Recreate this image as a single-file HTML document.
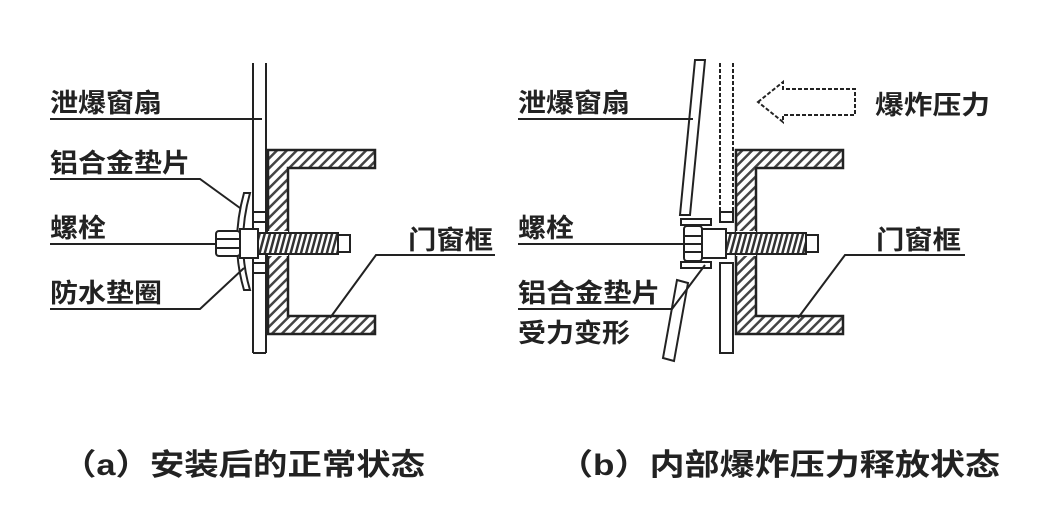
<!DOCTYPE html>
<html><head><meta charset="utf-8"><style>
html,body{margin:0;padding:0;background:#fff;}
svg{display:block;}
text{font-family:"Liberation Sans","Noto Sans CJK SC",sans-serif;fill:#222;font-weight:bold;}
</style></head><body>
<svg width="1062" height="516" viewBox="0 0 1062 516" xmlns="http://www.w3.org/2000/svg">
<defs>
<pattern id="h" width="7" height="7" patternUnits="userSpaceOnUse" patternTransform="rotate(45)">
<rect width="7" height="7" fill="#fff"/><rect width="2.5" height="7" fill="#444"/>
</pattern>
<pattern id="t" width="5" height="7" patternUnits="userSpaceOnUse" patternTransform="rotate(15)">
<rect width="5" height="7" fill="#fff"/><rect width="2.5" height="7" fill="#333"/>
</pattern>
</defs>
<g stroke="#222" stroke-width="2" fill="none">
<!-- (a) sash -->
<line x1="253" y1="63" x2="253" y2="353"/><line x1="266" y1="63" x2="266" y2="353"/>
<line x1="253" y1="353" x2="266" y2="353"/>
<line x1="253" y1="212" x2="266" y2="212"/><line x1="253" y1="222" x2="266" y2="222"/>
<line x1="253" y1="263" x2="266" y2="263"/><line x1="253" y1="273" x2="266" y2="273"/>
<!-- (a) frame -->
<path d="M268 150 H375 V168 H288 V316 H375 V334 H268 Z" fill="url(#h)" stroke-width="2.5"/>
<rect x="268" y="231" width="20" height="25" fill="#fff" stroke="none"/>
<!-- washer arc -->
<path d="M250 193 Q236 243 250 290 L244 290 Q230 243 244 193 Z" fill="#fff"/>
<!-- nut/bolt -->
<rect x="216" y="231" width="24" height="25" rx="3" fill="#fff"/>
<line x1="217" y1="239" x2="240" y2="239"/><line x1="217" y1="248" x2="240" y2="248"/>
<rect x="240" y="229" width="18" height="29" fill="#fff"/>
<rect x="258" y="233" width="80" height="21" fill="url(#t)"/>
<rect x="338" y="235" width="12" height="17" fill="#fff"/>
<!-- (a) leaders -->
<line x1="50" y1="119" x2="262" y2="119"/>
<polyline points="50,179 200,179 240,208"/>
<line x1="50" y1="244" x2="216" y2="244"/>
<polyline points="50,309 200,309 244,268"/>
<polyline points="495,255 376,255 330,318"/>

<!-- (b) dashed sash -->
<g stroke-dasharray="4,2">
<line x1="720" y1="63" x2="720" y2="212"/><line x1="733" y1="63" x2="733" y2="212"/>
<path d="M758 102 L783 82 V89 H855 V115 H783 V122 Z"/>
</g>
<rect x="720" y="212" width="13" height="10"/>
<rect x="720" y="263" width="13" height="90"/>
<!-- tilted sash -->
<polygon points="695,60 705,60 690,215 680,215" fill="#fff"/>
<polygon points="677,280 688,283 674,361 663,358" fill="#fff"/>
<!-- (b) frame -->
<path d="M736 150 H843 V168 H756 V316 H843 V334 H736 Z" fill="url(#h)" stroke-width="2.5"/>
<rect x="736" y="231" width="20" height="25" fill="#fff" stroke="none"/>
<!-- washer plates -->
<rect x="681" y="219" width="30" height="6" fill="#fff"/>
<rect x="681" y="262" width="30" height="6" fill="#fff"/>
<rect x="684" y="226" width="18" height="35" rx="3" fill="#fff"/>
<line x1="685" y1="236" x2="702" y2="236"/><line x1="685" y1="244" x2="702" y2="244"/><line x1="685" y1="252" x2="702" y2="252"/>
<rect x="702" y="229" width="24" height="29" fill="#fff"/>
<rect x="726" y="233" width="80" height="21" fill="url(#t)"/>
<rect x="806" y="235" width="12" height="17" fill="#fff"/>
<!-- (b) leaders -->
<line x1="518" y1="119" x2="693" y2="119"/>
<line x1="518" y1="244" x2="684" y2="244"/>
<polyline points="518,309 672,309 705,265"/>
<polyline points="965,255 845,255 798,318"/>
</g>
<g font-size="26">
<text x="50" y="112" textLength="112" lengthAdjust="spacingAndGlyphs">泄爆窗扇</text>
<text x="50" y="172" textLength="140" lengthAdjust="spacingAndGlyphs">铝合金垫片</text>
<text x="50" y="237" textLength="56" lengthAdjust="spacingAndGlyphs">螺栓</text>
<text x="50" y="302" textLength="112" lengthAdjust="spacingAndGlyphs">防水垫圈</text>
<text x="408" y="249" textLength="85" lengthAdjust="spacingAndGlyphs">门窗框</text>
<text x="518" y="112" textLength="112" lengthAdjust="spacingAndGlyphs">泄爆窗扇</text>
<text x="518" y="237" textLength="56" lengthAdjust="spacingAndGlyphs">螺栓</text>
<text x="518" y="302" textLength="142" lengthAdjust="spacingAndGlyphs">铝合金垫片</text>
<text x="518" y="342" textLength="112" lengthAdjust="spacingAndGlyphs">受力变形</text>
<text x="875" y="114" textLength="115" lengthAdjust="spacingAndGlyphs">爆炸压力</text>
<text x="876" y="249" textLength="85" lengthAdjust="spacingAndGlyphs">门窗框</text>
</g>
<g font-size="30">
<text x="62" y="475" textLength="363" lengthAdjust="spacingAndGlyphs">（a）安装后的正常状态</text>
<text x="558" y="475" textLength="442" lengthAdjust="spacingAndGlyphs">（b）内部爆炸压力释放状态</text>
</g>
</svg>
</body></html>
